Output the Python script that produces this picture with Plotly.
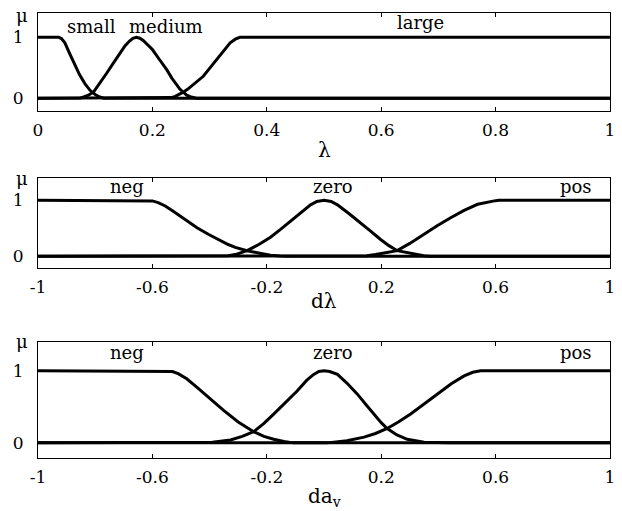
import plotly.graph_objects as go

# ---------------- data ----------------
# Panel 1: lambda
lam_small_x = [0, 0.036, 0.041, 0.047, 0.056, 0.065, 0.073, 0.082, 0.091, 0.100, 0.108, 0.115, 1.0]
lam_small_y = [1, 1, 0.98, 0.91, 0.72, 0.55, 0.38, 0.24, 0.13, 0.06, 0.02, 0, 0]
lam_medium_x = [0, 0.068, 0.074, 0.08, 0.088, 0.097, 0.108, 0.12, 0.132, 0.143, 0.152, 0.16, 0.166, 0.172,
                0.178, 0.184, 0.192, 0.2, 0.212, 0.225, 0.234, 0.242, 0.248, 0.254, 0.26, 0.266, 0.271, 0.277, 1.0]
lam_medium_y = [0, 0, 0.005, 0.02, 0.05, 0.1, 0.24, 0.41, 0.58, 0.74, 0.86, 0.94, 0.985, 1,
                0.985, 0.95, 0.88, 0.8, 0.64, 0.47, 0.33, 0.22, 0.15, 0.1, 0.05, 0.025, 0.01, 0, 1e-9 * 0]
lam_large_x = [0, 0.225, 0.233, 0.24, 0.247, 0.254, 0.262, 0.27, 0.28, 0.289, 0.3, 0.312, 0.324, 0.336, 0.345, 0.353, 1.0]
lam_large_y = [0, 0, 0.01, 0.03, 0.06, 0.1, 0.15, 0.21, 0.28, 0.36, 0.49, 0.63, 0.77, 0.91, 0.97, 1, 1]

# Panel 2: d lambda
dl_neg_x = [-1, -0.615, -0.6, -0.58, -0.555, -0.526, -0.485, -0.444, -0.403, -0.362, -0.335, -0.31, -0.269, -0.22, -0.187, -0.155, -0.129, 1]
dl_neg_y = [1, 1, 0.99, 0.96, 0.9, 0.8, 0.66, 0.51, 0.39, 0.28, 0.21, 0.16, 0.1, 0.05, 0.02, 0.005, 0, 0]
dl_zero_x = [-1, -0.362, -0.335, -0.31, -0.269, -0.228, -0.187, -0.152, -0.117, -0.082, -0.047, -0.025, 0,
             0.025, 0.047, 0.088, 0.128, 0.163, 0.198, 0.227, 0.256, 0.31, 0.349, 0.37, 1]
dl_zero_y = [0, 0, 0.01, 0.03, 0.1, 0.21, 0.34, 0.48, 0.63, 0.78, 0.92, 0.98, 1,
             0.98, 0.92, 0.76, 0.6, 0.45, 0.3, 0.19, 0.1, 0.04, 0.01, 0, 0]
dl_pos_x = [-1, 0.116, 0.15, 0.18, 0.22, 0.256, 0.3, 0.35, 0.397, 0.443, 0.49, 0.537, 0.58, 0.6, 0.612, 1]
dl_pos_y = [0, 0, 0.01, 0.03, 0.06, 0.1, 0.23, 0.4, 0.55, 0.69, 0.82, 0.93, 0.98, 0.995, 1, 1]

# Panel 3: da_v
da_neg_x = [-1, -0.552, -0.53, -0.51, -0.48, -0.444, -0.4, -0.351, -0.3, -0.246, -0.21, -0.176, -0.14, -0.107, 1]
da_neg_y = [1, 1, 0.99, 0.96, 0.89, 0.77, 0.62, 0.45, 0.29, 0.155, 0.09, 0.05, 0.02, 0, 0]
da_zero_x = [-1, -0.444, -0.39, -0.327, -0.286, -0.246, -0.21, -0.176, -0.135, -0.094, -0.06, -0.036, -0.018, 0,
             0.02, 0.047, 0.08, 0.116, 0.145, 0.175, 0.2, 0.221, 0.255, 0.291, 0.35, 0.44, 1]
da_zero_y = [0, 0, 0.01, 0.04, 0.09, 0.155, 0.27, 0.4, 0.56, 0.72, 0.87, 0.95, 0.99, 1,
             0.99, 0.95, 0.83, 0.68, 0.54, 0.4, 0.28, 0.2, 0.11, 0.05, 0.01, 0, 0]
da_pos_x = [-1, 0.011, 0.08, 0.14, 0.18, 0.221, 0.26, 0.303, 0.35, 0.397, 0.445, 0.49, 0.52, 0.548, 1]
da_pos_y = [0, 0, 0.03, 0.08, 0.13, 0.2, 0.29, 0.4, 0.54, 0.68, 0.82, 0.93, 0.98, 1, 1]

lam_ticks = [0, 0.2, 0.4, 0.6, 0.8, 1]
lam_ticktext = ["0", "0.2", "0.4", "0.6", "0.8", "1"]
d_ticks = [-1, -0.6, -0.2, 0.2, 0.6, 1]
d_ticktext = ["-1", "-0.6", "-0.2", "0.2", "0.6", "1"]
y_ticks = [0, 1]
y_ticktext = ["0", "1"]

panel1_labels = [("small", 0.094, 1.17), ("medium", 0.224, 1.17), ("large", 0.668, 1.25)]
panel2_labels = [("neg", -0.69, 1.25), ("zero", 0.03, 1.25), ("pos", 0.88, 1.25)]
panel3_labels = [("neg", -0.69, 1.25), ("zero", 0.03, 1.25), ("pos", 0.88, 1.25)]
x_titles = ["λ", "dλ", "da<sub>v</sub>"]

# ---------------- figure ----------------
FONT = "DejaVu Serif, Liberation Serif, serif"
W, H = 622, 511
LINE = dict(color="black", width=3)

fig = go.Figure()
series = [
    (lam_small_x, lam_small_y, "x", "y"),
    (lam_medium_x, lam_medium_y, "x", "y"),
    (lam_large_x, lam_large_y, "x", "y"),
    (dl_neg_x, dl_neg_y, "x2", "y2"),
    (dl_zero_x, dl_zero_y, "x2", "y2"),
    (dl_pos_x, dl_pos_y, "x2", "y2"),
    (da_neg_x, da_neg_y, "x3", "y3"),
    (da_zero_x, da_zero_y, "x3", "y3"),
    (da_pos_x, da_pos_y, "x3", "y3"),
]
for xs, ys, xa, ya in series:
    fig.add_trace(go.Scatter(x=xs, y=ys, mode="lines", line=LINE, xaxis=xa, yaxis=ya,
                             showlegend=False, hoverinfo="skip", cliponaxis=False))

# pixel boxes (top, bottom) of each panel
boxes = [(13, 111), (178, 268), (342, 458)]
domains = [[1 - b / H, 1 - t / H] for t, b in boxes]

TICKFONT = dict(family=FONT, size=17, color="black")
common_x = dict(showline=True, mirror="allticks", linecolor="black", linewidth=1,
                ticks="inside", ticklen=4, tickcolor="black", showgrid=False, zeroline=False,
                tickfont=TICKFONT, ticklabelstandoff=4, ticklabeloverflow="allow")
common_y = dict(showline=True, mirror="allticks", linecolor="black", linewidth=1,
                ticks="inside", ticklen=4, tickcolor="black", showgrid=False, zeroline=False,
                tickvals=y_ticks, ticktext=y_ticktext, range=[-0.21, 1.4],
                tickfont=TICKFONT, ticklabelstandoff=10, ticklabeloverflow="allow")

layout = dict(
    width=W, height=H, paper_bgcolor="white", plot_bgcolor="white",
    margin=dict(l=38, r=12, t=0, b=0), showlegend=False,
    xaxis=dict(common_x, domain=[0, 1], anchor="y", range=[0, 1.0001], tickvals=lam_ticks, ticktext=lam_ticktext),
    yaxis=dict(common_y, domain=domains[0], anchor="x"),
    xaxis2=dict(common_x, domain=[0, 1], anchor="y2", range=[-1.0001, 1.0001], tickvals=d_ticks, ticktext=d_ticktext),
    yaxis2=dict(common_y, domain=domains[1], anchor="x2"),
    xaxis3=dict(common_x, domain=[0, 1], anchor="y3", range=[-1.0001, 1.0001], tickvals=d_ticks, ticktext=d_ticktext),
    yaxis3=dict(common_y, domain=domains[2], anchor="x3"),
)
fig.update_layout(**layout)

ann = []
LABELFONT = dict(family=FONT, size=18, color="black")
for labels, xr, yr in [(panel1_labels, "x", "y"), (panel2_labels, "x2", "y2"), (panel3_labels, "x3", "y3")]:
    for txt, xv, yv in labels:
        ann.append(dict(text=txt, x=xv, y=yv, xref=xr, yref=yr, showarrow=False,
                        xanchor="center", yanchor="middle", font=LABELFONT))

# mu labels and x titles (pixel positions converted to paper coords)
mu_y = [15, 178, 341]
title_y = [150, 301, 497]
for i in range(3):
    ann.append(dict(text="μ", x=(22 - 38) / 572, y=1 - mu_y[i] / H, xref="paper", yref="paper",
                    showarrow=False, xanchor="center", yanchor="middle",
                    font=dict(family=FONT, size=18, color="black")))
    ann.append(dict(text=x_titles[i], x=0.5, y=1 - title_y[i] / H, xref="paper", yref="paper",
                    showarrow=False, xanchor="center", yanchor="middle",
                    font=dict(family=FONT, size=20, color="black")))
fig.update_layout(annotations=ann)

fig.write_html("out.html", config={"displayModeBar": False},
               post_script="document.body.style.margin='0';document.body.style.overflow='hidden';")
